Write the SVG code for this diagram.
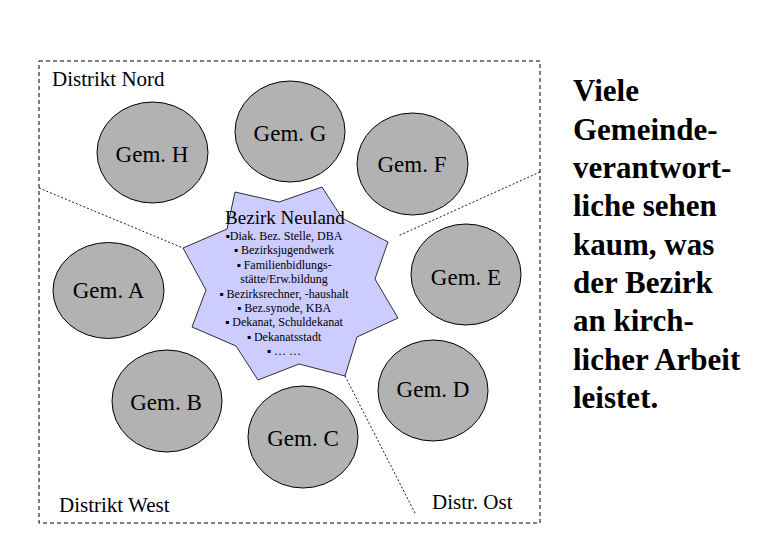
<svg xmlns="http://www.w3.org/2000/svg" width="780" height="540" viewBox="0 0 780 540">
<style>
text{font-family:"Liberation Serif","Times New Roman",serif;fill:#000}
.gem{fill:#B2B2B2;stroke:#000;stroke-width:1}
.gl{font-size:23px;text-anchor:middle}
.dl{font-size:21px}
.sep{stroke:#000;stroke-width:0.9;stroke-dasharray:2 2;fill:none}
.bl{font-size:12px;text-anchor:middle}
.side{font-size:31px;font-weight:bold}
</style>
<rect width="780" height="540" fill="#fff"/>
<rect x="39" y="61" width="501" height="462" fill="none" stroke="#000" stroke-width="1" stroke-dasharray="4 3"/>
<g id="connectors">
<line class="sep" x1="39" y1="188" x2="183" y2="248"/>
<line class="sep" x1="540" y1="172" x2="398" y2="236"/>
<line class="sep" x1="345" y1="376" x2="416" y2="515"/>
</g>
<text class="dl" x="52" y="86">Distrikt Nord</text>
<text class="dl" x="59" y="512">Distrikt West</text>
<text class="dl" x="432" y="509">Distr. Ost</text>
<g id="bezirk">
<polygon points="235,192 279,202 322,187 342,218 388,242 375,279 398,318 357,337 345,376 299,364 258,380 236,346 192,327 206,290 183,248 227,229" fill="#CCCCFF" stroke="#000" stroke-width="0.8"/>
<text x="285" y="224" style="font-size:19px;text-anchor:middle">Bezirk Neuland</text>
<text class="bl" x="284" y="240">▪Diak. Bez. Stelle, DBA</text>
<text class="bl" x="284" y="254">▪ Bezirksjugendwerk</text>
<text class="bl" x="284" y="268.5">▪ Familienbidlungs-</text>
<text class="bl" x="284" y="283">stätte/Erw.bildung</text>
<text class="bl" x="284" y="298">▪ Bezirksrechner, -haushalt</text>
<text class="bl" x="284" y="312">▪ Bez.synode, KBA</text>
<text class="bl" x="284" y="326">▪ Dekanat, Schuldekanat</text>
<text class="bl" x="284" y="341">▪ Dekanatsstadt</text>
<text class="bl" x="284" y="355">▪ … …</text>
</g>
<g id="gemH"><ellipse class="gem" cx="152.5" cy="152.5" rx="55.5" ry="50.5"/><text class="gl" x="152" y="162">Gem. H</text></g>
<g id="gemG"><ellipse class="gem" cx="290" cy="131.5" rx="55" ry="50.5"/><text class="gl" x="290" y="141">Gem. G</text></g>
<g id="gemF"><ellipse class="gem" cx="412.5" cy="164" rx="55.5" ry="51"/><text class="gl" x="412" y="172">Gem. F</text></g>
<g id="gemE"><ellipse class="gem" cx="466" cy="274.5" rx="55" ry="50.5"/><text class="gl" x="466" y="285">Gem. E</text></g>
<g id="gemD"><ellipse class="gem" cx="433" cy="390.5" rx="55" ry="50.5"/><text class="gl" x="433" y="397">Gem. D</text></g>
<g id="gemC"><ellipse class="gem" cx="303" cy="437" rx="55" ry="51"/><text class="gl" x="303" y="446">Gem. C</text></g>
<g id="gemB"><ellipse class="gem" cx="167" cy="401" rx="55" ry="51"/><text class="gl" x="166" y="410">Gem. B</text></g>
<g id="gemA"><ellipse class="gem" cx="108.5" cy="290.5" rx="55.5" ry="48"/><text class="gl" x="108.5" y="298">Gem. A</text></g>
<g id="note">
<text class="side" x="573" y="101">Viele</text>
<text class="side" x="573" y="139.5">Gemeinde-</text>
<text class="side" x="573" y="178">verantwort-</text>
<text class="side" x="573" y="216">liche sehen</text>
<text class="side" x="573" y="254.5">kaum, was</text>
<text class="side" x="573" y="293">der Bezirk</text>
<text class="side" x="573" y="331">an kirch-</text>
<text class="side" x="573" y="369.5">licher Arbeit</text>
<text class="side" x="573" y="408">leistet.</text>
</g>
</svg>
